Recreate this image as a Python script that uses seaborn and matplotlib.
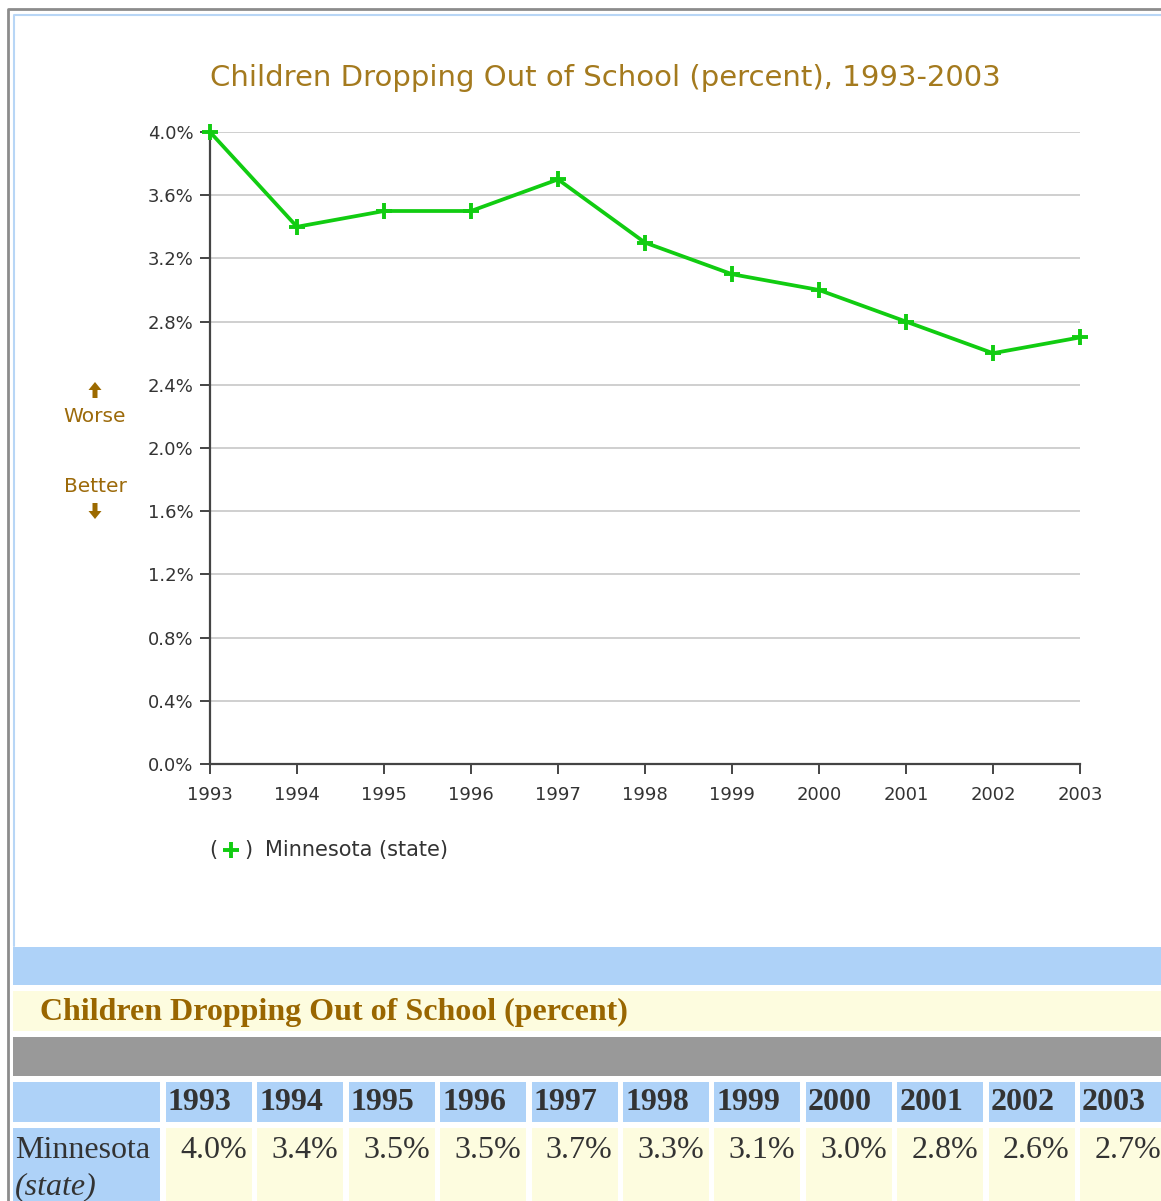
import numpy as np
import pandas as pd
import matplotlib
matplotlib.use("Agg")
import matplotlib.pyplot as plt
import seaborn as sns
from matplotlib.patches import Rectangle, FancyArrow
from matplotlib.lines import Line2D
from matplotlib.transforms import Affine2D

years = [1993, 1994, 1995, 1996, 1997, 1998, 1999, 2000, 2001, 2002, 2003]
dropout = [4.0, 3.4, 3.5, 3.5, 3.7, 3.3, 3.1, 3.0, 2.8, 2.6, 2.7]
y_ticks = [0.0, 0.4, 0.8, 1.2, 1.6, 2.0, 2.4, 2.8, 3.2, 3.6, 4.0]
region = "Minnesota (state)"
title = "Children Dropping Out of School (percent), 1993-2003"
table_title = "Children Dropping Out of School (percent)"

df = pd.DataFrame({"year": years, "pct": dropout, "region": region})

W, H = 1161, 1201
sns.set_style("white")
plt.rcParams["font.family"] = ["DejaVu Sans"]

fig = plt.figure(figsize=(W / 100, H / 100), dpi=100)
# pixel transform, y measured from the top
px = Affine2D().scale(0.01, -0.01).translate(0, H / 100) + fig.dpi_scale_trans

GREEN = "#11cc11"
BROWN = "#a47a1e"
DARK = "#333333"
BLUE = "#aed2f8"
YELLOW = "#fdfcdf"
GRAY = "#999999"
SERIF = ["Liberation Serif", "DejaVu Serif"]

# page borders
fig.add_artist(Line2D([8, 8, W], [H, 9, 9], transform=px, color="#8c8c8c", lw=2))
fig.add_artist(Line2D([14, 14, W], [946, 15, 15], transform=px, color="#b8d6f6", lw=1.5))

# chart axes
ax = fig.add_axes([210 / W, 1 - 764 / H, 870 / W, 632 / H])
sns.lineplot(data=df, x="year", y="pct", ax=ax, color=GREEN, lw=2.7,
             marker="+", markersize=12, markeredgewidth=2.8,
             markeredgecolor=GREEN, clip_on=False, zorder=5)
ax.set_xlim(years[0], years[-1])
ax.set_ylim(0, 4.0)
ax.set_xticks(years)
ax.set_xticklabels([str(y) for y in years])
ax.set_yticks(y_ticks)
ax.set_yticklabels([f"{t:.1f}%" for t in y_ticks])
ax.set_xlabel("")
ax.set_ylabel("")
ax.grid(axis="y", color="#cccccc", lw=1.3)
ax.set_axisbelow(True)
for s in ["top", "right"]:
    ax.spines[s].set_visible(False)
for s in ["left", "bottom"]:
    ax.spines[s].set_color("#444444")
    ax.spines[s].set_linewidth(1.6)
ax.tick_params(axis="both", direction="out", length=7, width=1.4, color="#444444",
               labelsize=13, labelcolor=DARK, left=True, bottom=True)
ax.tick_params(axis="y", pad=5)
ax.tick_params(axis="x", pad=9)

fig.text(605, 78, title, transform=px, ha="center", va="center",
         fontsize=21, color=BROWN)

# worse / better hints
fig.text(95, 416, "Worse", transform=px, ha="center", va="center",
         fontsize=14.5, color="#9c6a0a")
fig.text(95, 486, "Better", transform=px, ha="center", va="center",
         fontsize=14.5, color="#9c6a0a")
fig.add_artist(FancyArrow(95, 398, 0, -16, width=5, head_width=13, head_length=8,
                          length_includes_head=True, transform=px, color="#9c6a00", lw=0))
fig.add_artist(FancyArrow(95, 503, 0, 16, width=5, head_width=13, head_length=8,
                          length_includes_head=True, transform=px, color="#9c6a00", lw=0))

# legend
fig.text(209, 850, "(", transform=px, ha="left", va="center", fontsize=15, color=DARK)
fig.text(244, 850, ")", transform=px, ha="left", va="center", fontsize=15, color=DARK)
fig.add_artist(Line2D([231], [850], transform=px, marker="+", color=GREEN,
                      markersize=12, markeredgewidth=2.8))
fig.text(265, 850, region, transform=px, ha="left", va="center", fontsize=15, color=DARK)

# data table below the chart
def cell(x0, y0, x1, y1, color):
    fig.add_artist(Rectangle((x0, y1), x1 - x0, y0 - y1, transform=px,
                             facecolor=color, edgecolor="none"))

cell(13, 947, W, 985, BLUE)
cell(13, 991, W, 1031, YELLOW)
fig.text(40, 1012, table_title, transform=px, ha="left", va="center",
         fontsize=23, fontweight="bold", color="#996600", family=SERIF)
cell(13, 1037, W, 1076, GRAY)

cell(13, 1082, 160, 1122, BLUE)
cell(13, 1128, 160, H + 5, BLUE)
fig.text(15, 1150, "Minnesota", transform=px, ha="left", va="center",
         fontsize=23, color=DARK, family=SERIF)
fig.text(15, 1187, "(state)", transform=px, ha="left", va="center",
         fontsize=23, color=DARK, family=SERIF, style="italic")

pitch = (1080 - 166) / 10
for i, (yr, v) in enumerate(zip(years, dropout)):
    x0 = 166 + i * pitch
    x1 = x0 + 86 if i < len(years) - 1 else W + 5
    cell(x0, 1082, x1, 1122, BLUE)
    cell(x0, 1128, x1, H + 5, YELLOW)
    fig.text(x0 + 2, 1103, str(yr), transform=px, ha="left", va="center",
             fontsize=23, fontweight="bold", color=DARK, family=SERIF)
    fig.text(x0 + 81, 1150, f"{v:.1f}%", transform=px, ha="right", va="center",
             fontsize=23, color=DARK, family=SERIF)

fig.savefig("out.png", dpi=100)
